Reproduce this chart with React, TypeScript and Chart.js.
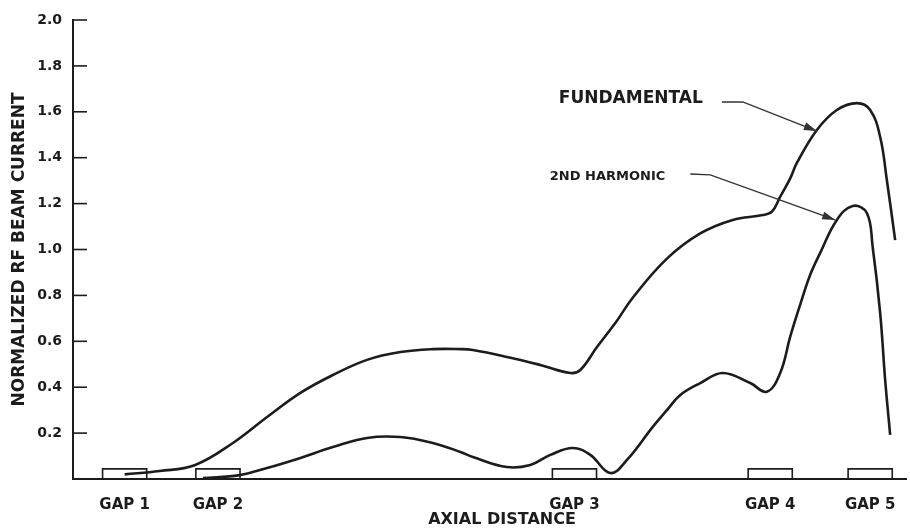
import React, { useEffect, useRef } from "react";
import { Chart, registerables } from "chart.js";

Chart.register(...registerables);

// Axial distance (arbitrary units 0-100) and normalized RF beam current
const fundX = [6.2, 10.4, 14.6, 19.2, 23.3, 27.3, 31.2, 35.3, 39.3, 43.2, 46.5, 48.0, 52.1, 56.1, 59.7, 60.9, 62.9, 65.3, 67.2, 71.3, 75.3, 79.2, 82.8, 83.9, 84.9, 86.1, 86.9, 89.3, 91.7, 94.1, 95.7, 96.9, 97.7, 98.7];
const fundY = [0.02, 0.035, 0.06, 0.157, 0.27, 0.375, 0.453, 0.519, 0.553, 0.566, 0.566, 0.562, 0.532, 0.497, 0.462, 0.475, 0.575, 0.69, 0.79, 0.96, 1.07, 1.129, 1.15, 1.165, 1.23, 1.31, 1.377, 1.521, 1.608, 1.638, 1.608, 1.49, 1.303, 1.041];

const harmX = [15.6, 20.0, 23.3, 27.3, 31.2, 35.3, 39.3, 43.2, 46.5, 48.0, 52.1, 54.9, 57.3, 60.0, 62.1, 64.5, 66.5, 69.6, 71.3, 72.9, 75.3, 78.0, 81.3, 83.3, 84.9, 86.1, 87.3, 88.5, 89.7, 91.7, 93.6, 95.3, 96.0, 96.9, 97.5, 98.1];
const harmY = [0.004, 0.017, 0.048, 0.092, 0.139, 0.179, 0.183, 0.157, 0.118, 0.096, 0.052, 0.061, 0.105, 0.135, 0.105, 0.026, 0.083, 0.227, 0.30, 0.366, 0.418, 0.462, 0.418, 0.38, 0.462, 0.62, 0.76, 0.89, 0.985, 1.129, 1.19, 1.159, 1.011, 0.723, 0.431, 0.192];

const gapCenters = [6.2, 17.4, 60.2, 83.7, 95.7];
const gapLabels = ["GAP 1", "GAP 2", "GAP 3", "GAP 4", "GAP 5"];
const gapWidth = 5.3;
const gapHeight = 0.044;

const yTickValues = [0, 0.2, 0.4, 0.6, 0.8, 1.0, 1.2, 1.4, 1.6, 1.8, 2.0];

const annotationLabels = ["FUNDAMENTAL", "2ND HARMONIC"];
const annotationAnchors = [[75.6, 1.656], [71.1, 1.316]];
const annotationSizes = [17, 13];
const arrowPaths = [
  [[77.9, 1.643], [80.4, 1.643], [89.3, 1.516]],
  [[74.1, 1.329], [76.5, 1.325], [91.5, 1.129]],
];

const FONT = "'DejaVu Sans', sans-serif";
const INK = "#1c1c1c";

const decorPlugin = {
  id: "decor",
  beforeDatasetsDraw(chart: any) {
    const { ctx, scales } = chart;
    const xs = scales.x;
    const ys = scales.y;
    ctx.save();
    ctx.strokeStyle = INK;
    ctx.lineWidth = 1.6;
    gapCenters.forEach((c) => {
      const x0 = xs.getPixelForValue(c - gapWidth / 2);
      const x1 = xs.getPixelForValue(c + gapWidth / 2);
      const y0 = ys.getPixelForValue(gapHeight);
      const y1 = ys.getPixelForValue(0);
      ctx.beginPath();
      ctx.moveTo(x0, y1);
      ctx.lineTo(x0, y0);
      ctx.lineTo(x1, y0);
      ctx.lineTo(x1, y1);
      ctx.stroke();
    });
    ctx.restore();
  },
  afterDraw(chart: any) {
    const { ctx, scales, chartArea } = chart;
    const xs = scales.x;
    const ys = scales.y;
    ctx.save();
    ctx.strokeStyle = INK;
    ctx.lineWidth = 1.6;
    yTickValues.forEach((v) => {
      if (v === 0) return;
      const y = ys.getPixelForValue(v);
      ctx.beginPath();
      ctx.moveTo(chartArea.left, y);
      ctx.lineTo(chartArea.left + 14, y);
      ctx.stroke();
    });
    ctx.fillStyle = INK;
    ctx.textBaseline = "middle";
    ctx.textAlign = "right";
    annotationLabels.forEach((t, i) => {
      ctx.font = `bold ${annotationSizes[i]}px ${FONT}`;
      ctx.fillText(t, xs.getPixelForValue(annotationAnchors[i][0]), ys.getPixelForValue(annotationAnchors[i][1]));
    });
    ctx.strokeStyle = "#333";
    ctx.fillStyle = "#333";
    ctx.lineWidth = 1.4;
    arrowPaths.forEach((path) => {
      const pts = path.map((p) => [xs.getPixelForValue(p[0]), ys.getPixelForValue(p[1])]);
      ctx.beginPath();
      pts.forEach((p, i) => (i === 0 ? ctx.moveTo(p[0], p[1]) : ctx.lineTo(p[0], p[1])));
      ctx.stroke();
      const a = pts[pts.length - 2];
      const b = pts[pts.length - 1];
      const ang = Math.atan2(b[1] - a[1], b[0] - a[0]);
      const L = 13;
      const W = 4;
      ctx.beginPath();
      ctx.moveTo(b[0], b[1]);
      ctx.lineTo(b[0] - L * Math.cos(ang) + W * Math.sin(ang), b[1] - L * Math.sin(ang) - W * Math.cos(ang));
      ctx.lineTo(b[0] - L * Math.cos(ang) - W * Math.sin(ang), b[1] - L * Math.sin(ang) + W * Math.cos(ang));
      ctx.closePath();
      ctx.fill();
    });
    ctx.fillStyle = INK;
    ctx.textAlign = "center";
    ctx.font = `bold 16px ${FONT}`;
    ctx.fillText("AXIAL DISTANCE", chartArea.left + 0.515 * (chartArea.right - chartArea.left), 520);
    ctx.restore();
  },
};

export default function App() {
  const ref = useRef<HTMLCanvasElement | null>(null);
  useEffect(() => {
    document.body.style.margin = "0";
    const canvas = ref.current;
    if (!canvas) return;
    const lineStyle = {
      borderColor: INK,
      borderWidth: 2.6,
      pointRadius: 0,
      tension: 0.4,
      fill: false,
    };
    const chart = new Chart(canvas, {
      type: "line",
      data: {
        datasets: [
          { label: "Fundamental", data: fundX.map((x, i) => ({ x, y: fundY[i] })), ...lineStyle },
          { label: "2nd Harmonic", data: harmX.map((x, i) => ({ x, y: harmY[i] })), ...lineStyle },
        ],
      },
      options: {
        responsive: false,
        animation: false,
        devicePixelRatio: 1,
        layout: { padding: { top: 20, right: 4, left: 0, bottom: 0 } },
        plugins: { legend: { display: false }, tooltip: { enabled: false } },
        scales: {
          x: {
            type: "linear",
            min: 0,
            max: 100,
            grid: { display: false },
            border: { display: true, color: INK, width: 2 },
            afterBuildTicks: (scale: any) => {
              scale.ticks = gapCenters.map((v) => ({ value: v }));
            },
            afterFit: (scale: any) => {
              scale.height = 50;
            },
            ticks: {
              autoSkip: false,
              maxRotation: 0,
              padding: 9,
              color: INK,
              font: { family: FONT, weight: "bold", size: 15 },
              callback: (_v: any, i: number) => gapLabels[i],
            },
          },
          y: {
            min: 0,
            max: 2,
            grid: { display: false },
            border: { display: true, color: INK, width: 2 },
            afterBuildTicks: (scale: any) => {
              scale.ticks = yTickValues.map((v) => ({ value: v }));
            },
            afterFit: (scale: any) => {
              scale.width = 73;
            },
            title: {
              display: true,
              text: "NORMALIZED RF BEAM CURRENT",
              color: INK,
              font: { family: FONT, weight: "bold", size: 17 },
              padding: { top: 9, bottom: 0 },
            },
            ticks: {
              padding: 3,
              color: INK,
              font: { family: FONT, weight: "bold", size: 14 },
              callback: (v: any) => (Number(v) === 0 ? "" : Number(v).toFixed(1)),
            },
          },
        },
      },
      plugins: [decorPlugin],
    } as any);
    return () => chart.destroy();
  }, []);
  return <canvas ref={ref} width={910} height={529} style={{ display: "block", background: "#fff" }} />;
}
